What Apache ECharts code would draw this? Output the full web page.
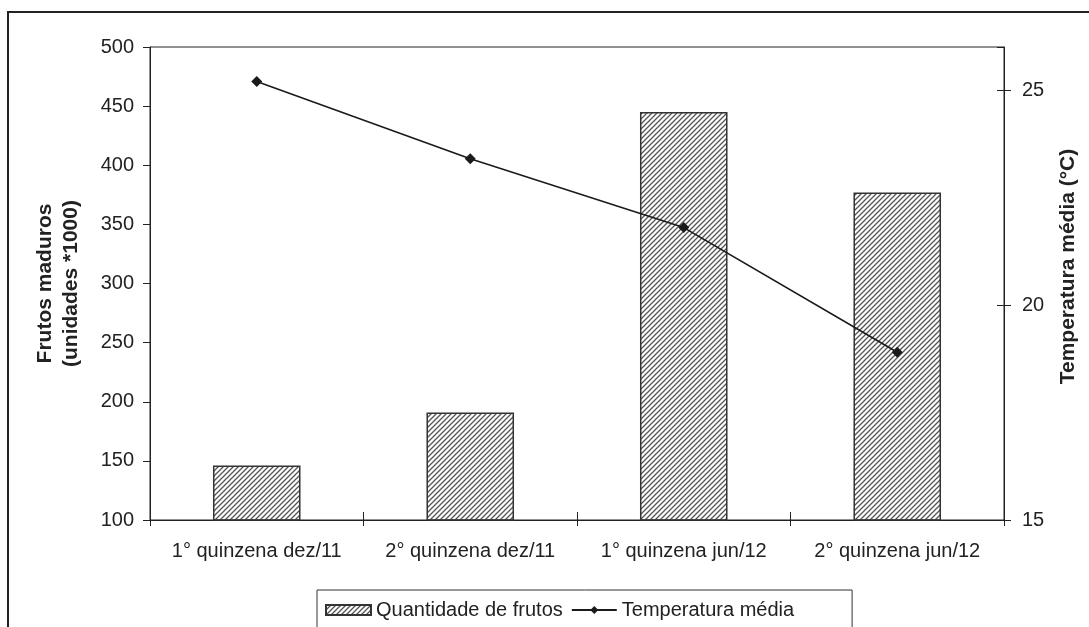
<!DOCTYPE html>
<html>
<head>
<meta charset="utf-8">
<script src="https://cdn.jsdelivr.net/npm/echarts@6/dist/echarts.min.js"></script>
<style>
  html, body { margin: 0; padding: 0; background: #fff; }
  #chart { width: 1089px; height: 627px; }
</style>
</head>
<body>
<div id="chart"></div>
<script>
  // dados
  var categorias = ['1° quinzena dez/11', '2° quinzena dez/11', '1° quinzena jun/12', '2° quinzena jun/12'];
  var frutos = [146, 191, 445, 377];          // unidades *1000
  var temperatura = [25.2, 23.4, 21.8, 18.9];  // °C

  var fonte = '"Liberation Sans", Arial, sans-serif';

  // hachura diagonal das barras
  function hachura () {
    var c = document.createElement('canvas');
    c.width = 5; c.height = 5;
    var ctx = c.getContext('2d');
    ctx.strokeStyle = '#555';
    ctx.lineWidth = 1.3;
    ctx.beginPath();
    ctx.moveTo(0, 5); ctx.lineTo(5, 0);
    ctx.moveTo(-1, 1); ctx.lineTo(1, -1);
    ctx.moveTo(4, 6); ctx.lineTo(6, 4);
    ctx.stroke();
    return c;
  }

  var chart = echarts.init(document.getElementById('chart'));
  var option = {
    backgroundColor: '#fff',
    animation: false,
    textStyle: { fontFamily: fonte, color: '#222' },
    graphic: [{
      type: 'rect',
      shape: { x: 8, y: 12, width: 1100, height: 700 },
      style: { fill: 'none', stroke: '#222', lineWidth: 2 },
      silent: true
    }],
    grid: {
      left: 150, right: 85, top: 47, bottom: 107,
      show: true, borderColor: '#222', borderWidth: 1
    },
    legend: {
      left: 317, top: 590,
      padding: [10, 58, 30, 8],
      borderColor: '#333', borderWidth: 1,
      itemWidth: 45, itemHeight: 10, itemGap: 8,
      textStyle: { fontSize: 20, color: '#222', fontFamily: fonte },
      data: [{ name: 'Quantidade de frutos', icon: 'rect' }, { name: 'Temperatura média' }]
    },
    xAxis: [{
      type: 'category',
      data: categorias,
      axisLine: { lineStyle: { color: '#222', width: 1 } },
      axisTick: { show: true, length: 6, lineStyle: { color: '#222' } },
      axisLabel: { interval: 0, fontSize: 20, color: '#222', margin: 21, fontFamily: fonte }
    }, {
      type: 'category',
      data: categorias,
      position: 'bottom',
      axisLine: { show: false },
      axisTick: { show: true, inside: true, length: 8, lineStyle: { color: '#222' } },
      axisLabel: { show: false }
    }],
    yAxis: [{
      type: 'value',
      min: 100, max: 500, interval: 50,
      name: 'Frutos maduros\n(unidades *1000)',
      nameLocation: 'middle', nameRotate: 90, nameGap: 66,
      nameTextStyle: { fontSize: 21, fontWeight: 'bold', lineHeight: 26, color: '#222', fontFamily: fonte },
      axisLine: { show: true, lineStyle: { color: '#222' } },
      axisTick: { show: true, length: 7, lineStyle: { color: '#222' } },
      axisLabel: { fontSize: 20, color: '#222', margin: 16, fontFamily: fonte },
      splitLine: { show: false }
    }, {
      type: 'value',
      position: 'right',
      min: 15, max: 26, interval: 5,
      name: 'Temperatura média (°C)',
      nameLocation: 'middle', nameRotate: 90, nameGap: 54,
      nameTextStyle: { fontSize: 21, fontWeight: 'bold', color: '#222', fontFamily: fonte, padding: [0, 0, 0, 34] },
      axisLine: { show: true, lineStyle: { color: '#222' } },
      axisTick: { show: true, length: 7, lineStyle: { color: '#222' } },
      axisLabel: { fontSize: 20, color: '#222', margin: 18, showMaxLabel: false, fontFamily: fonte },
      splitLine: { show: false }
    }, {
      type: 'value',
      position: 'right',
      min: 15, max: 26, interval: 5,
      axisLine: { show: false },
      axisTick: { show: true, inside: true, length: 7, lineStyle: { color: '#222' } },
      axisLabel: { show: false },
      splitLine: { show: false }
    }],
    series: [{
      name: 'Quantidade de frutos',
      type: 'bar',
      xAxisIndex: 0,
      yAxisIndex: 0,
      barWidth: '41%',
      data: frutos,
      itemStyle: {
        color: { image: hachura(), repeat: 'repeat' },
        borderColor: '#333',
        borderWidth: 1.5
      }
    }, {
      name: 'Temperatura média',
      type: 'line',
      xAxisIndex: 0,
      yAxisIndex: 1,
      data: temperatura,
      symbol: 'diamond',
      symbolSize: 11,
      lineStyle: { color: '#1a1a1a', width: 1.6 },
      itemStyle: { color: '#1a1a1a' }
    }]
  };
  chart.setOption(option);
</script>
</body>
</html>
